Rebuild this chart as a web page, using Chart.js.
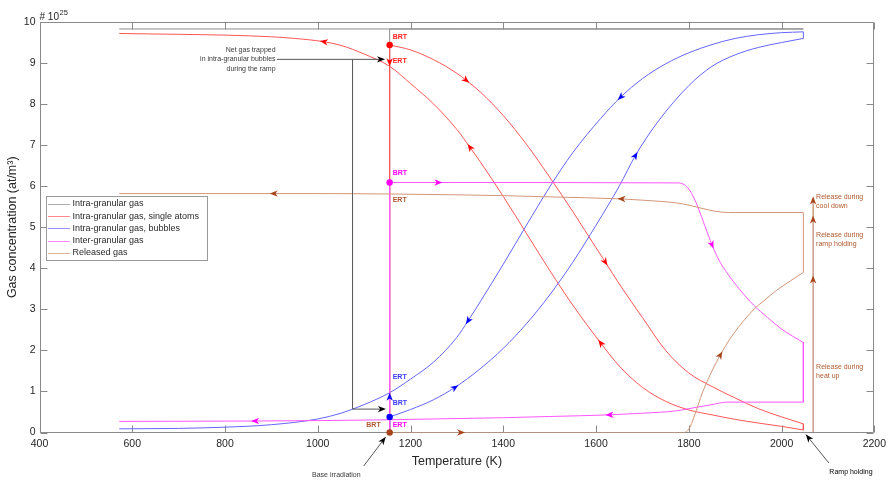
<!DOCTYPE html>
<html>
<head>
<meta charset="utf-8">
<script src="https://cdn.jsdelivr.net/npm/chart.js@4.4.1/dist/chart.umd.min.js"></script>
<style>
  html, body { margin: 0; padding: 0; background: #ffffff; }
  #wrap { width: 891px; height: 482px; position: relative; }
</style>
</head>
<body>
<div id="wrap"><canvas id="c" width="891" height="482"></canvas></div>
<script>
// ---- Gas inventory during a power ramp (values in 1e25 at/m3, temperature in K) ----

const seriesNames = [
  'Intra-granular gas',
  'Intra-granular gas, single atoms',
  'Intra-granular gas, bubbles',
  'Inter-granular gas',
  'Released gas'
];

const xTickValues = [400, 600, 800, 1000, 1200, 1400, 1600, 1800, 2000, 2200];
const yTickValues = [0, 1, 2, 3, 4, 5, 6, 7, 8, 9, 10];

// Total intra-granular gas: base irradiation, then constant through the ramp
const intraT = [1155, 1155, 2047, 572];
const intraY = [0, 9.83, 9.83, 9.83];

// Single atoms: heat-up then cool-down
const atomsHeatT = [1155, 1200, 1250, 1300, 1320, 1350, 1400, 1450, 1500, 1550, 1600, 1620, 1650, 1700, 1750, 1800, 1850, 1900, 1950, 2000, 2047];
const atomsHeatY = [9.44, 9.32, 9.08, 8.75, 8.58, 8.3, 7.72, 7.02, 6.22, 5.38, 4.5, 4.15, 3.62, 2.8, 2.0, 1.45, 1.12, 0.84, 0.58, 0.38, 0.21];
const atomsCoolT = [2047, 2000, 1950, 1900, 1850, 1800, 1750, 1700, 1650, 1610, 1550, 1500, 1450, 1400, 1350, 1328, 1300, 1250, 1200, 1155, 1100, 1050, 1013, 950, 900, 800, 700, 572];
const atomsCoolY = [0.06, 0.15, 0.23, 0.32, 0.43, 0.55, 0.76, 1.1, 1.62, 2.18, 3.1, 3.95, 4.85, 5.75, 6.6, 6.95, 7.38, 8.0, 8.5, 8.92, 9.22, 9.43, 9.52, 9.6, 9.64, 9.68, 9.7, 9.72];

// Bubbles
const bubblesHeatT = [1155, 1200, 1250, 1296, 1350, 1400, 1450, 1500, 1550, 1600, 1650, 1685, 1732, 1800, 1850, 1900, 1950, 2000, 2047];
const bubblesHeatY = [0.38, 0.56, 0.8, 1.1, 1.55, 2.05, 2.65, 3.35, 4.15, 5.05, 6.0, 6.75, 7.55, 8.45, 8.92, 9.2, 9.38, 9.5, 9.6];
const bubblesCoolT = [2047, 2000, 1950, 1900, 1850, 1800, 1750, 1700, 1653, 1610, 1550, 1500, 1450, 1400, 1350, 1324, 1300, 1250, 1200, 1155, 1100, 1050, 1000, 900, 800, 700, 572];
const bubblesCoolY = [9.76, 9.74, 9.69, 9.6, 9.45, 9.25, 8.98, 8.62, 8.17, 7.65, 6.82, 5.98, 5.05, 4.1, 3.18, 2.72, 2.32, 1.72, 1.3, 0.97, 0.68, 0.47, 0.33, 0.19, 0.13, 0.1, 0.09];

// Inter-granular gas
const interHeatT = [1155, 1260, 1775, 1790, 1800, 1810, 1820, 1835, 1850, 1865, 1883, 1910, 1940, 1970, 2000, 2047];
const interHeatY = [6.09, 6.09, 6.08, 6.04, 5.93, 5.74, 5.48, 5.02, 4.57, 4.2, 3.88, 3.48, 3.1, 2.8, 2.52, 2.19];
const interCoolT = [2047, 1883, 1850, 1800, 1775, 1700, 1629, 1500, 1400, 1300, 1155, 1000, 865, 572];
const interCoolY = [0.74, 0.74, 0.68, 0.58, 0.53, 0.47, 0.43, 0.39, 0.36, 0.34, 0.31, 0.29, 0.28, 0.27];

// Released gas
const releasedHeatT = [1155, 1309, 1790, 1797, 1803, 1815, 1829, 1850, 1868, 1890, 1918, 1942, 1961, 1990, 2020, 2047];
const releasedHeatY = [0, 0, 0, 0.04, 0.14, 0.5, 0.96, 1.5, 1.89, 2.3, 2.72, 3.02, 3.2, 3.47, 3.7, 3.9];
const releasedCoolT = [2047, 1886, 1775, 1700, 1655, 1500, 1400, 1300, 1155, 1000, 905, 572];
const releasedCoolY = [5.36, 5.36, 5.59, 5.66, 5.69, 5.74, 5.77, 5.79, 5.81, 5.82, 5.82, 5.82];

// Temperatures where direction arrows sit on each branch
const atomsArrows = { heat: [1320, 1620], cool: [1610, 1328, 1013] };
const bubblesArrows = { heat: [1296, 1685], cool: [1653, 1324] };
const interArrows = { heat: [1260, 1850], cool: [1629, 865] };
const releasedArrows = { heat: [1309, 1868], cool: [1655, 905] };

// ---------------------------------------------------------------
const FONT = "'Liberation Sans', Arial, Helvetica, sans-serif";
const LINE = { intra: '#8c8c8c', atoms: '#ff5656', bubbles: '#6464ff', inter: '#ff55ff', released: '#d39678' };
const HEAD = { atoms: '#ff0000', bubbles: '#0000ff', inter: '#ff00ff', released: '#a8441c' };
const TEXT = { atoms: '#ff2020', bubbles: '#3a3aff', inter: '#ff00ff', released: '#b0582e' };

function toPoints(ts, ys) { return ts.map((t, i) => ({ x: t, y: ys[i] })); }
function arrowIdx(ts, list) { const m = []; ts.forEach((t, i) => { if (i > 0 && i < ts.length - 1 && list.includes(t)) m.push(i); }); return m; }

function curveDs(key, ts, ys, list) {
  return {
    key, data: toPoints(ts, ys), marks: arrowIdx(ts, list),
    showLine: true, borderColor: LINE[key], backgroundColor: LINE[key],
    borderWidth: 1, pointRadius: 0, cubicInterpolationMode: 'monotone', fill: false
  };
}
function straightDs(key, pts, width) {
  return {
    key, data: pts, showLine: true, borderColor: LINE[key], backgroundColor: LINE[key],
    borderWidth: width || 1, pointRadius: 0, tension: 0, fill: false
  };
}

// One series = base-irradiation rise, heat-up branch, holding step, cool-down branch
function seriesSets(key, heatT, heatY, coolT, coolY, arrows) {
  return [
    curveDs(key, heatT, heatY, arrows.heat),
    curveDs(key, coolT, coolY, arrows.cool),
    straightDs(key, [{ x: heatT[0], y: 0 }, { x: heatT[0], y: heatY[0] }], 1.25),
    straightDs(key, [{ x: heatT[heatT.length - 1], y: heatY[heatY.length - 1] }, { x: coolT[0], y: coolY[0] }])
  ];
}

// Beginning-of-ramp states (first point of each heat-up branch)
const brtPoints = [
  { x: atomsHeatT[0], y: atomsHeatY[0] },
  { x: interHeatT[0], y: interHeatY[0] },
  { x: bubblesHeatT[0], y: bubblesHeatY[0] },
  { x: releasedHeatT[0], y: releasedHeatY[0] }
];
const brtColors = [HEAD.atoms, HEAD.inter, HEAD.bubbles, HEAD.released];

// dataset index 0 is painted last (on top)
const datasets = [
  { key: 'brt', data: brtPoints, showLine: false, pointRadius: 3.2, pointBorderWidth: 0,
    pointBackgroundColor: brtColors, pointBorderColor: brtColors, clip: false },
  ...seriesSets('released', releasedHeatT, releasedHeatY, releasedCoolT, releasedCoolY, releasedArrows),
  ...seriesSets('inter', interHeatT, interHeatY, interCoolT, interCoolY, interArrows),
  ...seriesSets('bubbles', bubblesHeatT, bubblesHeatY, bubblesCoolT, bubblesCoolY, bubblesArrows),
  ...seriesSets('atoms', atomsHeatT, atomsHeatY, atomsCoolT, atomsCoolY, atomsArrows),
  straightDs('intra', toPoints(intraT, intraY))
];

function ert(ts, ys, t) { return ys[ts.indexOf(t)]; }

// ---------- drawing helpers ----------
function arrowHead(ctx, x, y, ux, uy, len, half, color) {
  const nx = -uy, ny = ux;
  const bx = x - ux * len, by = y - uy * len;
  const notch = len * 0.28;
  ctx.beginPath();
  ctx.moveTo(x, y);
  ctx.lineTo(bx + nx * half, by + ny * half);
  ctx.lineTo(x - ux * (len - notch), y - uy * (len - notch));
  ctx.lineTo(bx - nx * half, by - ny * half);
  ctx.closePath();
  ctx.fillStyle = color;
  ctx.fill();
}

function arrowLine(ctx, x0, y0, x1, y1, color, headColor, len, half) {
  ctx.beginPath();
  ctx.moveTo(x0, y0);
  ctx.lineTo(x1, y1);
  ctx.strokeStyle = color;
  ctx.lineWidth = 1;
  ctx.stroke();
  const d = Math.hypot(x1 - x0, y1 - y0);
  arrowHead(ctx, x1, y1, (x1 - x0) / d, (y1 - y0) / d, len, half, headColor);
}

const overlay = {
  id: 'overlay',
  beforeDatasetsDraw(chart) {
    const { ctx, chartArea: a, scales } = chart;
    const px = t => scales.x.getPixelForValue(t), py = v => scales.y.getPixelForValue(v);
    // axes box with inward ticks
    ctx.save();
    const L = Math.round(a.left) + 0.5, R = Math.round(a.right) - 0.5;
    const T = Math.round(a.top) + 0.5, B = Math.round(a.bottom) - 0.5;
    ctx.strokeStyle = '#8a8a8a';
    ctx.lineWidth = 1;
    ctx.beginPath();
    ctx.rect(L, T, R - L, B - T);
    xTickValues.forEach(t => {
      const xx = Math.round(px(t)) + 0.5;
      ctx.moveTo(xx, B); ctx.lineTo(xx, B - 7);
      ctx.moveTo(xx, T); ctx.lineTo(xx, T + 7);
    });
    yTickValues.forEach(v => {
      const yy = Math.round(py(v)) + 0.5;
      ctx.moveTo(L, yy); ctx.lineTo(L + 7, yy);
      ctx.moveTo(R, yy); ctx.lineTo(R - 7, yy);
    });
    ctx.stroke();
    ctx.restore();
  },
  afterDatasetsDraw(chart) {
    const { ctx, chartArea: a, scales } = chart;
    const X = scales.x, Y = scales.y;
    const px = t => X.getPixelForValue(t), py = v => Y.getPixelForValue(v);
    ctx.save();

    // direction arrows along the curves
    chart.data.datasets.forEach(ds => {
      if (!ds.marks) return;
      ds.marks.forEach(k => {
        const p0 = ds.data[k - 1], p = ds.data[k], p1 = ds.data[k + 1];
        const dx = px(p1.x) - px(p0.x), dy = py(p1.y) - py(p0.y);
        const d = Math.hypot(dx, dy);
        const ux = dx / d, uy = dy / d;
        arrowHead(ctx, px(p.x) + ux * 4, py(p.y) + uy * 4, ux, uy, 8, 3.2, HEAD[ds.key]);
      });
    });

    // beginning-of-ramp -> end-of-ramp arrows at the base temperature
    const tb = px(atomsHeatT[0]);
    arrowHead(ctx, tb, py(ert(atomsCoolT, atomsCoolY, 1155)), 0, 1, 8, 3.2, HEAD.atoms);
    arrowHead(ctx, tb, py(ert(bubblesCoolT, bubblesCoolY, 1155)), 0, -1, 8, 3.2, HEAD.bubbles);

    // BRT / ERT tags
    ctx.font = `bold 7px ${FONT}`;
    ctx.textBaseline = 'middle';
    const tags = [
      ['BRT', 9.64, TEXT.atoms, 'left'], ['ERT', 9.05, TEXT.atoms, 'left'],
      ['BRT', 6.32, TEXT.inter, 'left'], ['ERT', 5.66, TEXT.released, 'left'],
      ['ERT', 1.35, TEXT.bubbles, 'left'], ['BRT', 0.72, TEXT.bubbles, 'left'],
      ['ERT', 0.19, TEXT.inter, 'left'], ['BRT', 0.19, TEXT.released, 'right']
    ];
    tags.forEach(([s, v, c, al]) => {
      ctx.fillStyle = c;
      ctx.textAlign = al;
      ctx.fillText(s, al === 'left' ? tb + 3 : tb - 9, py(v));
    });

    // bracket: gas trapped in bubbles during the ramp
    const ink = '#3a3a3a';
    const yTop = py(9.09), yBot = py(0.57), xCorner = px(1075);
    ctx.strokeStyle = '#555555';
    ctx.lineWidth = 1;
    ctx.beginPath();
    ctx.moveTo(px(912), yTop); ctx.lineTo(px(1140), yTop);
    ctx.moveTo(xCorner, yTop); ctx.lineTo(xCorner, yBot); ctx.lineTo(px(1142), yBot);
    ctx.stroke();
    arrowHead(ctx, px(1145), yTop, 1, 0, 8, 3.2, '#000000');
    arrowHead(ctx, px(1147), yBot, 1, 0, 8, 3.2, '#000000');
    ctx.font = `7px ${FONT}`;
    ctx.fillStyle = ink;
    ctx.textAlign = 'right';
    ctx.fillText('Net gas trapped', px(909), yTop - 9.5);
    ctx.fillText('in intra-granular bubbles', px(909), yTop);
    ctx.fillText('during the ramp', px(909), yTop + 9.7);

    // release annotations to the right of the holding temperature
    const xr = px(2068);
    ctx.strokeStyle = '#b06a48';
    ctx.beginPath();
    ctx.moveTo(xr, py(0)); ctx.lineTo(xr, py(5.72));
    ctx.stroke();
    [releasedHeatY[releasedHeatY.length - 1], releasedCoolY[0], releasedCoolY[releasedCoolY.length - 1]].forEach(v => {
      arrowHead(ctx, xr, py(v) + 3, 0, -1, 8, 3.2, HEAD.released);
    });
    ctx.fillStyle = TEXT.released;
    ctx.textAlign = 'left';
    [['Release during', 'heat up', 1.6], ['Release during', 'ramp holding', 4.81], ['Release during', 'cool down', 5.74]].forEach(([l1, l2, v]) => {
      ctx.fillText(l1, xr + 3, py(v));
      ctx.fillText(l2, xr + 3, py(v) + 9.4);
    });

    // call-outs under the axis
    const b0x = px(1155), b0y = py(0);
    arrowLine(ctx, b0x - 26, b0y + 33.5, b0x - 4, b0y + 4.5, '#555555', '#000000', 8, 3.2);
    ctx.fillStyle = ink;
    ctx.textAlign = 'right';
    ctx.fillText('Base irradiation', b0x - 29, b0y + 43);
    const h0x = px(2047), h0y = py(0);
    arrowLine(ctx, h0x + 25.5, h0y + 30.5, h0x + 2.5, h0y + 2, '#555555', '#000000', 8, 3.2);
    ctx.textAlign = 'left';
    ctx.fillText('Ramp holding', h0x + 26, h0y + 39.5);

    // legend
    const lx = a.left + 6.5, ly = a.top + 174, lw = 161, lh = 64;
    ctx.fillStyle = '#ffffff';
    ctx.fillRect(lx, ly, lw, lh);
    ctx.strokeStyle = '#9a9a9a';
    ctx.strokeRect(Math.round(lx) + 0.5, Math.round(ly) + 0.5, lw, lh);
    ctx.font = `9px ${FONT}`;
    ctx.textAlign = 'left';
    ctx.textBaseline = 'middle';
    const keys = ['intra', 'atoms', 'bubbles', 'inter', 'released'];
    seriesNames.forEach((name, i) => {
      const yy = ly + 8 + i * 12.2;
      ctx.strokeStyle = LINE[keys[i]];
      ctx.globalAlpha = 0.7;
      ctx.beginPath();
      ctx.moveTo(lx + 2, Math.round(yy) + 0.5); ctx.lineTo(lx + 24, Math.round(yy) + 0.5);
      ctx.stroke();
      ctx.globalAlpha = 1;
      ctx.fillStyle = '#2a2a2a';
      ctx.fillText(name, lx + 26.5, yy);
    });

    // scale factor
    ctx.fillStyle = '#262626';
    ctx.textBaseline = 'alphabetic';
    ctx.font = `10px ${FONT}`;
    ctx.fillText('# 10', a.left, a.top - 2.5);
    const w = ctx.measureText('# 10').width;
    ctx.font = `7.5px ${FONT}`;
    ctx.fillText('25', a.left + w + 0.5, a.top - 7.5);

    // axis titles
    ctx.font = `12.5px ${FONT}`;
    ctx.textAlign = 'center';
    ctx.textBaseline = 'middle';
    ctx.fillText('Temperature (K)', (a.left + a.right) / 2, 462);
    ctx.save();
    ctx.translate(13, (a.top + a.bottom) / 2);
    ctx.rotate(-Math.PI / 2);
    ctx.fillText('Gas concentration (at/m\u00B3)', 0, 0);
    ctx.restore();

    ctx.restore();
  }
};

new Chart(document.getElementById('c'), {
  type: 'scatter',
  data: { datasets },
  options: {
    responsive: false,
    animation: false,
    devicePixelRatio: 1,
    layout: { padding: { top: 22, right: 13, left: 0, bottom: 0 } },
    plugins: { legend: { display: false }, tooltip: { enabled: false } },
    scales: {
      x: {
        type: 'linear', min: 400, max: 2200,
        afterBuildTicks: s => { s.ticks = xTickValues.map(v => ({ value: v })); },
        afterFit: s => { s.height = 49.5; },
        grid: { display: false, drawTicks: false },
        border: { display: false },
        ticks: { color: '#262626', font: { family: FONT, size: 10.5 }, padding: 5, maxRotation: 0, autoSkip: false,
                 callback: v => String(v) }
      },
      y: {
        type: 'linear', min: 0, max: 10,
        afterBuildTicks: s => { s.ticks = yTickValues.map(v => ({ value: v })); },
        afterFit: s => { s.width = 39.5; },
        grid: { display: false, drawTicks: false },
        border: { display: false },
        ticks: { color: '#262626', font: { family: FONT, size: 10.5 }, padding: 4, callback: v => String(v) }
      }
    }
  },
  plugins: [overlay]
});
</script>
</body>
</html>
